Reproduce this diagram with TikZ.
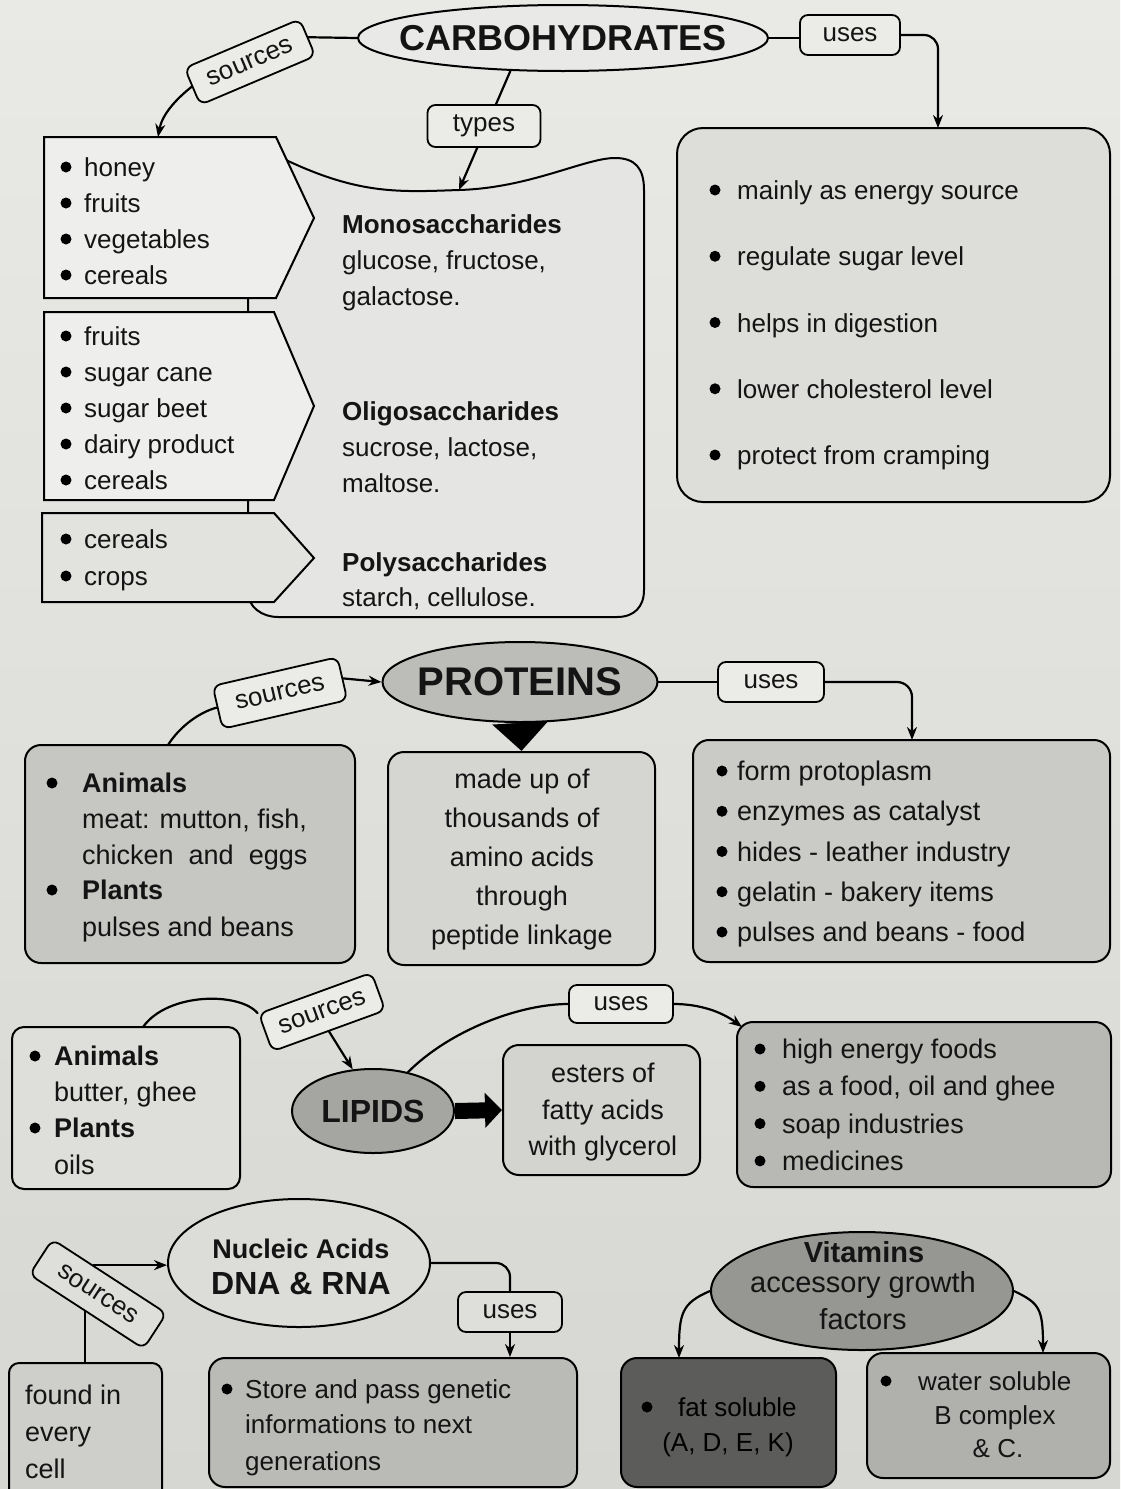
\documentclass[tikz,border=0pt]{standalone}
\usepackage{fontspec}
\setmainfont{Liberation Sans}
\usetikzlibrary{shapes.geometric,arrows.meta,calc}
\pgfdeclarelayer{back}
\pgfdeclarelayer{lines}
\pgfsetlayers{back,lines,main}
\definecolor{paperT}{RGB}{233,233,230}
\definecolor{paperB}{RGB}{214,214,210}
\definecolor{ink}{RGB}{20,20,20}
\definecolor{carbF}{RGB}{233,233,231}
\definecolor{tagc}{RGB}{235,235,232}
\definecolor{tagd}{RGB}{222,222,219}
\definecolor{srcF}{RGB}{238,238,236}
\definecolor{srcG}{RGB}{226,226,223}
\definecolor{typF}{RGB}{229,229,227}
\definecolor{cuseF}{RGB}{221,221,218}
\definecolor{protF}{RGB}{188,188,185}
\definecolor{plF}{RGB}{198,198,195}
\definecolor{pmF}{RGB}{213,213,210}
\definecolor{prF}{RGB}{202,202,199}
\definecolor{llF}{RGB}{222,222,219}
\definecolor{lipF}{RGB}{165,165,162}
\definecolor{leF}{RGB}{211,211,208}
\definecolor{luF}{RGB}{184,184,181}
\definecolor{nucF}{RGB}{220,220,217}
\definecolor{foF}{RGB}{206,206,203}
\definecolor{stF}{RGB}{186,186,183}
\definecolor{vitF}{RGB}{150,150,147}
\definecolor{fatF}{RGB}{92,92,90}
\definecolor{watF}{RGB}{176,176,173}
\newcommand{\fs}[1]{\fontsize{#1}{#1}\selectfont}
% bullet dot placed left of a text node, #2 = distance from text start to dot centre
\newcommand{\dotat}[2]{\fill[black] ($(#1.mid west)+(-#2,-7)$) circle (5.5pt);}
\tikzset{
  ln/.style={line width=2.2pt, line cap=round, draw=black},
  arr/.style={ln, -{Stealth[length=13pt,width=10pt]}},
  bx/.style={draw, line width=2pt, rounded corners=16pt, inner sep=0pt},
  tag/.style={draw, line width=1.8pt, rounded corners=8pt, fill=tagc, inner sep=0pt, font=\fs{26}, text=ink},
  ell/.style={draw, ellipse, line width=2pt, inner sep=0pt},
  tx/.style={anchor=mid west, inner sep=0pt, font=\fs{26}, text=ink, yshift=-7pt},
  tk/.style={anchor=mid west, inner sep=0pt, font=\fs{27}, text=ink, yshift=-7pt},
  tc/.style={anchor=mid, inner sep=0pt, font=\fs{27}, text=ink, yshift=-7pt},
  pent/.style={draw, line width=2pt, line join=miter},
}
\begin{document}
\begin{tikzpicture}[x=1pt,y=-1pt]
\useasboundingbox (0,0) rectangle (1120,1489);
\clip (0,0) rectangle (1120,1489);
\begin{pgfonlayer}{back}
\shade[top color=paperT, bottom color=paperB] (0,0) rectangle (1120,1489);
\end{pgfonlayer}

% ================= CARBOHYDRATES =================
\node[ell, fill=carbF, minimum width=410pt, minimum height=66pt] (carb) at (563,38) {};
\node[font=\bfseries\fs{36}, text=ink] (carbT) at (carb) {CARBOHYDRATES};
\node[tag, rotate=23, minimum width=125pt, minimum height=40pt] (srcC) at (250,62) {sources};
\node[tag, minimum width=113pt, minimum height=42pt] (typC) at (484,126) {types};
\node[tag, minimum width=100pt, minimum height=40pt] (useC) at (850,35) {uses};

% types shape
\draw[pent, fill=typF] (248,150) -- (286,160) .. controls (360,195) and (400,192) .. (459,190)
  .. controls (530,188) and (585,158) .. (615,158) .. controls (635,158) and (644,168) .. (644,190)
  -- (644,590) .. controls (644,607) and (634,617) .. (617,617) -- (278,617)
  .. controls (262,617) and (248,607) .. (248,592) -- cycle;
\coordinate (ctop) at (459,190);

% source pentagons
\draw[pent, fill=srcF] (44,137) -- (276,137) -- (314,218) -- (276,298) -- (44,298) -- cycle;
\draw[pent, fill=srcF] (44,312) -- (274,312) -- (314,406) -- (274,500) -- (44,500) -- cycle;
\draw[pent, fill=srcG] (42,513) -- (274,513) -- (314,558) -- (274,602) -- (42,602) -- cycle;
\coordinate (cs1top) at (158,137);

\foreach \w [count=\i] in {honey,fruits,vegetables,cereals}
  {\node[tx] (sa\i) at (84,{167+36*(\i-1)}) {\w}; \dotat{sa\i}{18}}
\foreach \w [count=\i] in {fruits,sugar cane,sugar beet,dairy product,cereals}
  {\node[tx] (sb\i) at (84,{336+36*(\i-1)}) {\w}; \dotat{sb\i}{18}}
\foreach \w [count=\i] in {cereals,crops}
  {\node[tx] (sc\i) at (84,{539+37*(\i-1)}) {\w}; \dotat{sc\i}{18}}

\node[tx, font=\bfseries\fs{26}] (ty1) at (342,224) {Monosaccharides};
\node[tx] (ty2) at (342,260) {glucose, fructose,};
\node[tx] (ty3) at (342,296) {galactose.};
\node[tx, font=\bfseries\fs{26}] (ty4) at (342,411) {Oligosaccharides};
\node[tx] (ty5) at (342,447) {sucrose, lactose,};
\node[tx] (ty6) at (342,483) {maltose.};
\node[tx, font=\bfseries\fs{26}] (ty7) at (342,562) {Polysaccharides};
\node[tx] (ty8) at (342,597) {starch, cellulose.};

% uses box
\node[bx, fill=cuseF, minimum width=433pt, minimum height=374pt, rounded corners=26pt] (cuse) at (893.5,315) {};
\coordinate (cut) at (938,128);
\foreach \w [count=\i] in {mainly as energy source,regulate sugar level,helps in digestion,lower cholesterol level,protect from cramping}
  {\node[tx] (cu\i) at (737,{190+66.25*(\i-1)}) {\w}; \dotat{cu\i}{22}}

\begin{pgfonlayer}{lines}
\draw[ln] (carb.west) -- (srcC.east);
\draw[arr] (srcC.west) .. controls (175,100) and (162,115) .. (cs1top);
\draw[arr] (carb.212) -- (ctop);
\draw[ln] (carb.east) -- (useC.west |- carb.east);
\draw[arr, rounded corners=14pt] (useC.east) -| (cut);
\end{pgfonlayer}

% ================= PROTEINS =================
\node[ell, fill=protF, minimum width=275pt, minimum height=80pt] (prot) at (520,682) {};
\node[font=\bfseries\fs{40}, text=ink] (protT) at (prot) {PROTEINS};
\node[tag, rotate=13, minimum width=128pt, minimum height=44pt] (srcP) at (280,693) {sources};
\node[tag, minimum width=106pt, minimum height=40pt] (useP) at (771,682) {uses};
\node[bx, fill=plF, minimum width=330pt, minimum height=218pt] (pl) at (190,854) {};
\node[bx, fill=pmF, minimum width=267pt, minimum height=213pt] (pm) at (521.5,858.5) {};
\node[bx, fill=prF, minimum width=417pt, minimum height=222pt] (pr) at (901.5,851) {};
\coordinate (plc) at (168,745);
\coordinate (prc) at (912,740);

\node[tk] (pl1) at (82,783) {\textbf{Animals}};
\node[tk] (pl2) at (82,819) {meat: mutton, fish,};
\node[tk] (pl3) at (82,855) {chicken\ \ and\ \ eggs};
\node[tk] (pl4) at (82,890) {\textbf{Plants}};
\node[tk] (pl5) at (82,927) {pulses and beans};
\dotat{pl1}{30}
\dotat{pl4}{30}

\foreach \w [count=\i] in {made up of,thousands of,amino acids,through,peptide linkage}
  \node[tc] (pm\i) at (522,{779+39*(\i-1)}) {\w};

\foreach \w [count=\i] in {form protoplasm,enzymes as catalyst,hides - leather industry,gelatin - bakery items,pulses and beans - food}
  {\node[tk] (pr\i) at (737,{771+40.25*(\i-1)}) {\w}; \dotat{pr\i}{15}}

\begin{pgfonlayer}{lines}
\draw[ln] (plc) .. controls (180,726) and (200,712) .. (srcP.west);
\draw[arr] (srcP.east) -- (prot.west);
\draw[ln] (prot.east) -- (useP.west);
\draw[arr, rounded corners=15pt] (useP.east) -| (prc);
\draw[line width=30pt, -{Triangle[length=28pt,width=54pt]}] (prot.south) -- (pm.north);
\end{pgfonlayer}

% ================= LIPIDS =================
\node[bx, fill=llF, minimum width=228pt, minimum height=162pt, rounded corners=12pt] (ll) at (126,1108) {};
\node[tag, rotate=20, minimum width=120pt, minimum height=40pt] (srcL) at (322,1012) {sources};
\node[ell, fill=lipF, minimum width=162pt, minimum height=84pt] (lip) at (373,1111) {};
\node[font=\bfseries\fs{32}, text=ink] (lipT) at (lip) {LIPIDS};
\node[bx, fill=leF, minimum width=197pt, minimum height=130pt] (le) at (601.5,1110) {};
\node[tag, minimum width=104pt, minimum height=38pt] (useL) at (621,1004) {uses};
\node[bx, fill=luF, minimum width=374pt, minimum height=165pt] (lu) at (924,1104.5) {};
\coordinate (llc) at (143,1027);
\coordinate (lut) at (742,1027);

\node[tk] (ll1) at (54,1056) {\textbf{Animals}};
\node[tk] (ll2) at (54,1092) {butter, ghee};
\node[tk] (ll3) at (54,1128) {\textbf{Plants}};
\node[tk] (ll4) at (54,1165) {oils};
\dotat{ll1}{19}
\dotat{ll3}{19}

\foreach \w [count=\i] in {esters of,fatty acids,with glycerol}
  \node[tc] (le\i) at (603,{1073+36.5*(\i-1)}) {\w};
\foreach \w [count=\i] in {high energy foods,{as a food, oil and ghee},soap industries,medicines}
  {\node[tk] (lu\i) at (782,{1049+37.3*(\i-1)}) {\w}; \dotat{lu\i}{22}}

\begin{pgfonlayer}{lines}
\draw[ln] (llc) .. controls (168,992) and (240,992) .. (srcL.north west);
\draw[arr] (srcL.south) -- (lip.116);
\draw[ln] (lip.48) .. controls (450,1030) and (520,1004) .. (useL.west);
\draw[arr] (useL.east) .. controls (700,1004) and (722,1012) .. (lut);
\draw[line width=16pt, -{Triangle[length=17pt,width=34pt]}] (lip.east) -- (le.west);
\end{pgfonlayer}

% ================= NUCLEIC ACIDS =================
\node[ell, fill=nucF, minimum width=262pt, minimum height=128pt] (nuc) at (299,1263) {};
\node[font=\bfseries\fs{27}, text=ink] (nucA) at (301,1249) {Nucleic Acids};
\node[font=\bfseries\fs{32}, text=ink] (nucB) at (301,1284) {DNA \& RNA};
\node[tag, fill=tagd, rotate=-33, minimum width=136pt, minimum height=42pt] (srcN) at (98,1294) {sources};
\node[tag, fill=tagd, minimum width=104pt, minimum height=40pt] (useN) at (510,1312) {uses};
\node[bx, fill=foF, minimum width=153pt, minimum height=140pt, rounded corners=10pt] (fo) at (85.5,1433) {};
\node[bx, fill=stF, minimum width=368pt, minimum height=129pt] (st) at (393,1422.5) {};
\coordinate (sna) at ($(srcN.north west)!0.36!(srcN.north east)$);
\coordinate (snb) at ($(srcN.south west)!0.49!(srcN.south east)$);

\foreach \w [count=\i] in {found in,every,cell}
  \node[tk] (fo\i) at (25,{1395+37*(\i-1)}) {\w};
\node[tx] (st1) at (245,1389) {Store and pass genetic};
\node[tx] (st2) at (245,1424) {informations to next};
\node[tx] (st3) at (245,1461) {generations};
\dotat{st1}{18}

\begin{pgfonlayer}{lines}
\draw[arr] (sna) -- (sna -| nuc.west);
\draw[ln] (snb) -- (snb |- fo.north);
\draw[ln, rounded corners=14pt] (nuc.east) -| (useN.north);
\draw[arr] (useN.south) -- (useN.south |- st.north);
\end{pgfonlayer}

% ================= VITAMINS =================
\node[ell, fill=vitF, minimum width=302pt, minimum height=118pt] (vit) at (862,1291) {};
\node[font=\bfseries\fs{29}, text=ink] (vitA) at (864,1252) {Vitamins};
\node[font=\fs{29}, text=ink] (vitB) at (863,1285) {accessory growth};
\node[font=\fs{29}, text=ink] (vitC) at (863,1319) {factors};
\node[bx, fill=fatF, minimum width=215pt, minimum height=129pt] (fat) at (728.5,1422.5) {};
\node[bx, fill=watF, minimum width=243pt, minimum height=125pt] (wat) at (988.5,1415.5) {};
\coordinate (fa) at (679,1358);
\coordinate (wa) at (1043,1353);

\node[tx, text=black] (fat1) at (678,1407) {fat soluble};
\node[tc, font=\fs{26}, text=black] (fat2) at (728,1442) {(A, D, E, K)};
\node[tx] (wat1) at (918,1381) {water soluble};
\node[tc, font=\fs{26}] (wat2) at (995,1415) {B complex};
\node[tc, font=\fs{26}] (wat3) at (998,1448) {\& C.};
\dotat{fat1}{31}
\dotat{wat1}{32}

\begin{pgfonlayer}{lines}
\draw[arr] (vit.west) .. controls +(-28,12) and +(0,-45) .. (fa);
\draw[arr] (vit.east) .. controls +(25,12) and +(0,-45) .. (wa);
\end{pgfonlayer}
\end{tikzpicture}
\end{document}
